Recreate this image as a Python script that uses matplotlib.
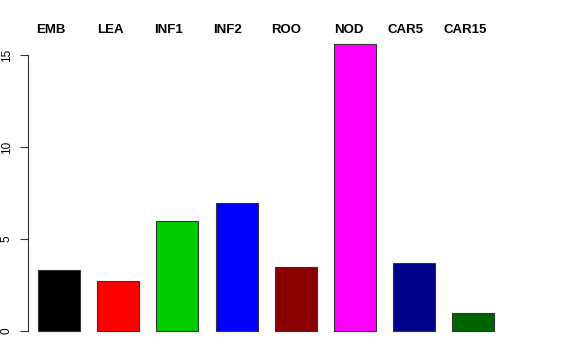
import matplotlib
matplotlib.use("Agg")
import matplotlib.pyplot as plt
import numpy as np

plt.rcParams['font.family'] = ['Liberation Sans', 'DejaVu Sans']

# tissue groups and values
groups = ["EMB", "LEA", "INF1", "INF2", "ROO", "NOD", "CAR5", "CAR15"]
values = [3.31, 2.73, 6.0, 6.98, 3.49, 15.63, 3.70, 0.96]
colors = ["black", "red", "#00CD00", "blue", "#8B0000", "magenta", "#00008B", "#006400"]
yticks = [0, 5, 10, 15]

fig = plt.figure(figsize=(5.76, 3.6), dpi=100)
ax = fig.add_axes([0.0486, 0.06, 0.924, 0.843])

x = np.arange(len(groups))
ax.bar(x, values, width=0.711, color=colors, edgecolor="#333333", linewidth=0.8)

ax.set_xlim(-0.53, 8.48)
ax.set_ylim(-0.4, 16.1)
for s in ["top", "right", "bottom"]:
    ax.spines[s].set_visible(False)
ax.spines["left"].set_bounds(0, 15)
ax.spines["left"].set_color("#333333")
ax.set_xticks([])
ax.set_yticks(yticks)
ax.set_yticklabels([str(t) for t in yticks], rotation=90, va="center", fontsize=8.5)
ax.tick_params(axis="y", length=6, width=0.8, pad=5, color="#333333")

# labels across the top (legend-like row), left edges in pixels
label_left = [36, 97, 154, 213, 271, 334, 388, 443]
for lx, g in zip(label_left, groups):
    fig.text(lx / 576, 1 - 30 / 360, g, ha="left", va="center",
             fontsize=9.5, fontweight="bold")

fig.savefig("out.png", dpi=100)
